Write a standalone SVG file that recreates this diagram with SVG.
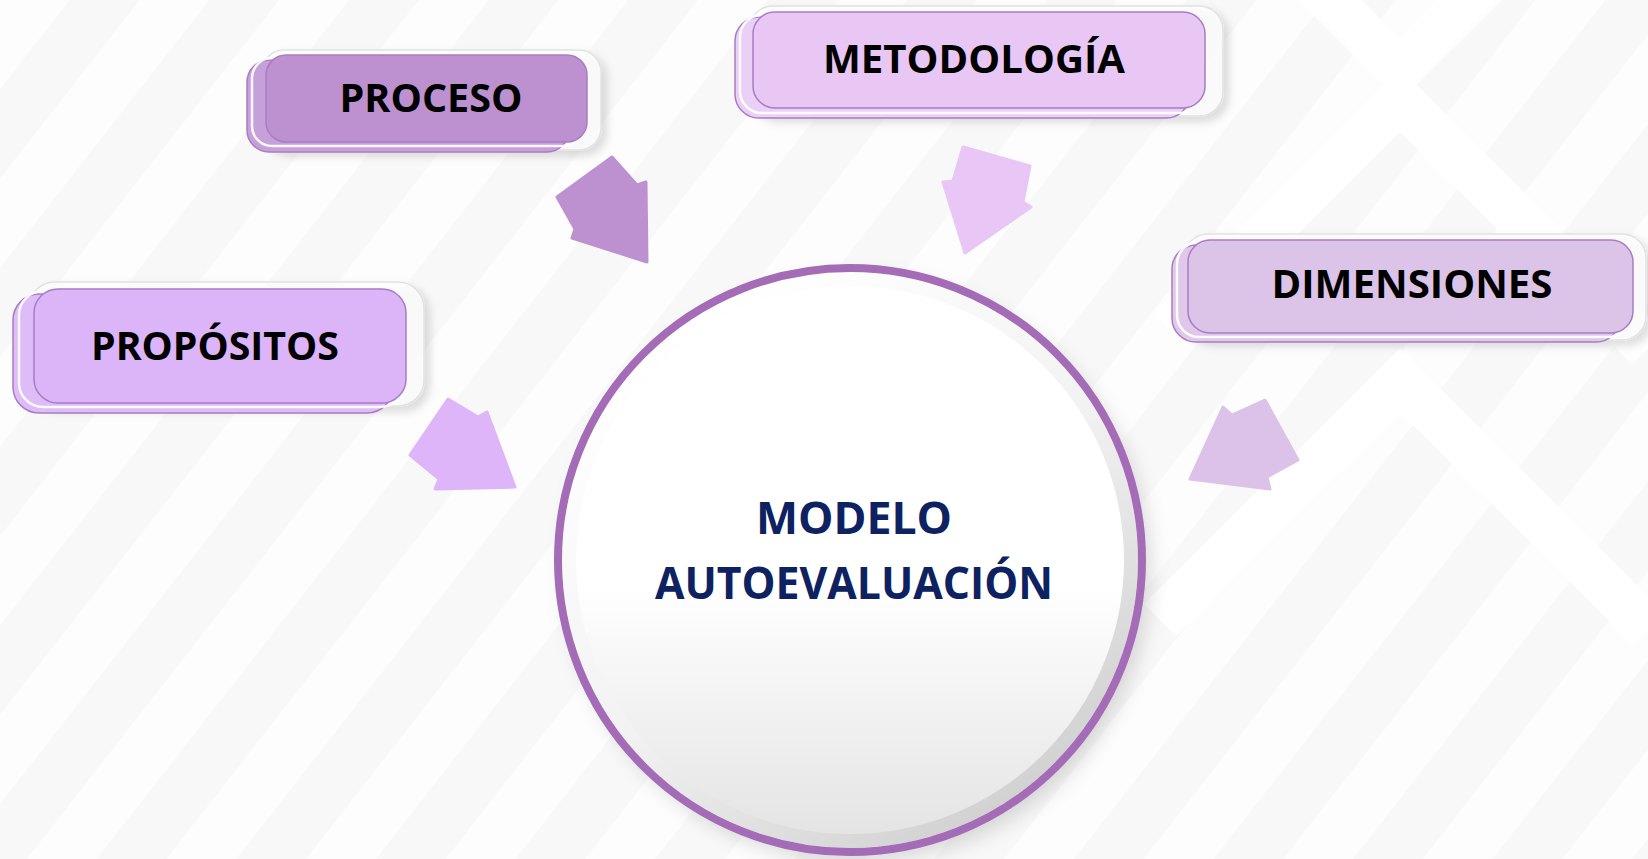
<svg xmlns="http://www.w3.org/2000/svg" width="1648" height="859" viewBox="0 0 1648 859">
  <defs>
    <pattern id="stripes" patternUnits="userSpaceOnUse" width="110" height="110" patternTransform="rotate(38)">
      <rect width="110" height="110" fill="#F8F8F8"/>
      <rect width="55" height="110" fill="#FDFDFD"/>
    </pattern>
    <filter id="shadow" x="-10%" y="-20%" width="125%" height="150%">
      <feDropShadow dx="5" dy="5" stdDeviation="4" flood-color="#000" flood-opacity="0.18"/>
    </filter>
    <filter id="cshadow" x="-10%" y="-10%" width="125%" height="125%">
      <feDropShadow dx="8" dy="10" stdDeviation="10" flood-color="#000" flood-opacity="0.15"/>
    </filter>
    <linearGradient id="disc" x1="0" y1="0" x2="0" y2="1">
      <stop offset="0" stop-color="#FFFFFF"/>
      <stop offset="0.55" stop-color="#FFFFFF"/>
      <stop offset="1" stop-color="#E4E4E4"/>
    </linearGradient>
    <linearGradient id="bevel" x1="0.2" y1="0.1" x2="0.8" y2="0.95">
      <stop offset="0" stop-color="#FFFFFF"/>
      <stop offset="0.5" stop-color="#F2F2F2"/>
      <stop offset="1" stop-color="#CFCFCF"/>
    </linearGradient>
  </defs>
  <style>
    .lbl { font-family: "Open Sans", "Liberation Sans", sans-serif; font-weight: bold; fill: #000; text-anchor: middle; }
    .ctr { font-family: "Open Sans", "Liberation Sans", sans-serif; font-weight: bold; fill: #0E2160; text-anchor: middle; }
    .frame { fill: #FFFFFF; fill-opacity: 0.7; stroke: #E2E2E2; stroke-width: 1.5; }
    .back { stroke: #A97CC4; stroke-width: 1.5; }
    .hl { fill: none; stroke: #FFFFFF; stroke-width: 2.5; stroke-opacity: 0.9; }
    .front { stroke: #A97CC4; stroke-width: 1.5; }
    .arrow { stroke-width: 3; stroke-linejoin: round; }
  </style>

  <!-- background -->
  <rect width="1648" height="859" fill="url(#stripes)"/>
  <g fill="none" stroke="#FFFFFF" stroke-width="45" stroke-linejoin="miter">
    <polyline points="1170,330 1400,100 1648,348"/>
    <polyline points="1160,620 1400,380 1648,628"/>
    <polyline points="1300,-30 1400,70 1500,-30"/>
  </g>

  <!-- connectors -->
  <g id="connectors">
    <polygon class="arrow" fill="#BD91D0" stroke="#BD91D0" points="557,197 612,157 637,185 646,182 647,262 572,238 575,229"/>
    <polygon class="arrow" fill="#E8C6F5" stroke="#E8C6F5" points="963,147 1030,166 1023,202 1031,207 965,253 943,182 953,181"/>
    <polygon class="arrow" fill="#DDB5F8" stroke="#DDB5F8" points="410,455 448,399 478,417 487,412 515,487 435,489 439,479"/>
    <polygon class="arrow" fill="#DCC2E8" stroke="#DCC2E8" points="1265,400 1298,460 1267,477 1270,489 1190,479 1223,407 1232,415"/>
  </g>

  <!-- center node -->
  <g id="node-modelo">
    <circle cx="850" cy="560" r="292" fill="#FFFFFF" filter="url(#cshadow)"/>
    <circle cx="850" cy="560" r="288" fill="url(#bevel)"/>
    <circle cx="850" cy="560" r="274" fill="url(#disc)"/>
    <circle cx="850" cy="560" r="292" fill="none" stroke="#A46BB7" stroke-width="8"/>
    <text class="ctr" x="854" y="534" font-size="45" textLength="196" lengthAdjust="spacingAndGlyphs">MODELO</text>
    <text class="ctr" x="854" y="599" font-size="45" textLength="398" lengthAdjust="spacingAndGlyphs">AUTOEVALUACIÓN</text>
  </g>

  <!-- PROCESO -->
  <g id="node-proceso">
    <rect class="frame" x="262" y="50" width="339" height="100" rx="22" filter="url(#shadow)"/>
    <rect class="back" x="247" y="60" width="322" height="92" rx="22" fill="#C6A0D8"/>
    <rect class="hl" x="252" y="58" width="330" height="88" rx="20"/>
    <rect class="front" x="266" y="55" width="321" height="87" rx="20" fill="#BD91D0"/>
    <text class="lbl" x="431" y="112" font-size="39" textLength="183" lengthAdjust="spacingAndGlyphs">PROCESO</text>
  </g>

  <!-- METODOLOGIA -->
  <g id="node-metodologia">
    <rect class="frame" x="749" y="6" width="474" height="110" rx="24" filter="url(#shadow)"/>
    <rect class="back" x="735" y="17" width="455" height="101" rx="24" fill="#EBD0F6"/>
    <rect class="hl" x="740" y="15" width="460" height="98" rx="22"/>
    <rect class="front" x="753" y="12" width="452" height="96" rx="22" fill="#E8C7F5"/>
    <text class="lbl" x="974" y="73" font-size="40" textLength="302" lengthAdjust="spacingAndGlyphs">METODOLOGÍA</text>
  </g>

  <!-- PROPOSITOS -->
  <g id="node-propositos">
    <rect class="frame" x="29" y="282" width="395" height="124" rx="26" filter="url(#shadow)"/>
    <rect class="back" x="13" y="294" width="380" height="119" rx="26" fill="#DEBCF7"/>
    <rect class="hl" x="19" y="291" width="385" height="116" rx="24"/>
    <rect class="front" x="34" y="289" width="372" height="114" rx="24" fill="#DCB5F8"/>
    <text class="lbl" x="215" y="360" font-size="39" textLength="248" lengthAdjust="spacingAndGlyphs">PROPÓSITOS</text>
  </g>

  <!-- DIMENSIONES -->
  <g id="node-dimensiones">
    <rect class="frame" x="1184" y="234" width="462" height="106" rx="24" filter="url(#shadow)"/>
    <rect class="back" x="1172" y="245" width="448" height="97" rx="24" fill="#DFC8EA"/>
    <rect class="hl" x="1177" y="242" width="452" height="95" rx="22"/>
    <rect class="front" x="1188" y="240" width="445" height="93" rx="22" fill="#DCC3E8"/>
    <text class="lbl" x="1412" y="298" font-size="40" textLength="281" lengthAdjust="spacingAndGlyphs">DIMENSIONES</text>
  </g>
</svg>
